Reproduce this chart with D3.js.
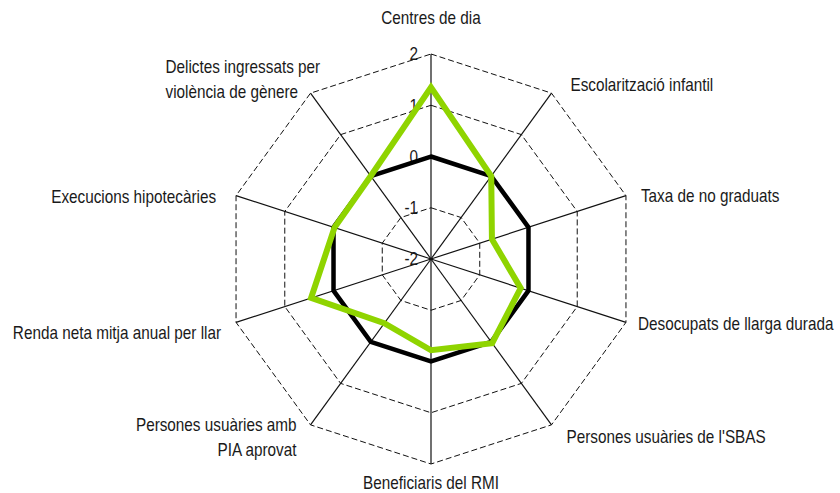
<!DOCTYPE html>
<html>
<head>
<meta charset="utf-8">
<script src="https://cdn.jsdelivr.net/npm/d3@7"></script>
<style>
  body { margin: 0; background: #fff; }
  svg text { font-family: "Liberation Sans", Arial, sans-serif; font-size: 18px; fill: #1a1a1a; }
</style>
</head>
<body>
<div id="chart"></div>
<script>
// Axis names, clockwise from the top
const axes = [
    ["Centres de dia"],
    ["Escolarització infantil"],
    ["Taxa de no graduats"],
    ["Desocupats de llarga durada"],
    ["Persones usuàries de l'SBAS"],
    ["Beneficiaris del RMI"],
    ["Persones usuàries amb", "PIA aprovat"],
    ["Renda neta mitja anual per llar"],
    ["Execucions hipotecàries"],
    ["Delictes ingressats per", "violència de gènere"]
];
const ticks = [-2, -1, 0, 1, 2];

// reference (all zero) and the district
const reference = [0, 0, 0, 0, 0, 0, 0, 0, 0, 0];
const district = [1.35, 0.0, -0.75, -0.16, 0.03, -0.22, -0.45, 0.46, -0.02, 0.0];

// label placement per axis: anchor, dx, dy from the outer vertex
const labelPos = [
    { anchor: "middle", dx: 0, dy: -36 },
    { anchor: "start", dx: 19, dy: -8 },
    { anchor: "start", dx: 15, dy: 0 },
    { anchor: "start", dx: 12, dy: 1 },
    { anchor: "start", dx: 15, dy: 12 },
    { anchor: "middle", dx: 0, dy: 19 },
    { anchor: "end", dx: -14, dy: 12 },
    { anchor: "end", dx: -15, dy: 10 },
    { anchor: "end", dx: -20, dy: 1 },
    { anchor: "start", dx: -145, dy: -14 }
];

const width = 840, height = 493;
const cx = 431, cy = 259, R = 205;
const narrow = 0.85; // squeeze to imitate a condensed face

const svg = d3.select("#chart").append("svg")
    .attr("width", width)
    .attr("height", height);

const r = d3.scaleLinear().domain([-2, 2]).range([0, R]);
const angle = i => i * 2 * Math.PI / axes.length;
const pt = (i, v) => [cx + r(v) * Math.sin(angle(i)), cy - r(v) * Math.cos(angle(i))];

const g = svg.append("g");

// dashed rings
ticks.filter(t => t > -2).forEach(t => {
    g.append("path")
        .attr("d", d3.line()(axes.map((a, i) => pt(i, t))) + "Z")
        .attr("fill", "none")
        .attr("stroke", "#111")
        .attr("stroke-width", 1)
        .attr("stroke-dasharray", "6,3");
});

// spokes
axes.forEach((a, i) => {
    const [x, y] = pt(i, 2);
    g.append("line")
        .attr("x1", cx).attr("y1", cy)
        .attr("x2", x).attr("y2", y)
        .attr("stroke", "#111")
        .attr("stroke-width", 1.2);
});

// tick labels along the top spoke
g.selectAll(".tick")
    .data(ticks)
    .enter()
    .append("text")
    .attr("transform", d => `translate(${cx - 13},${cy - r(d)}) scale(${narrow},1)`)
    .attr("dy", "0.35em")
    .attr("text-anchor", "end")
    .text(d => d);

// series
const radarLine = d3.line().curve(d3.curveLinearClosed);
g.append("path")
    .attr("d", radarLine(reference.map((v, i) => pt(i, v))))
    .attr("fill", "none")
    .attr("stroke", "#000")
    .attr("stroke-width", 4.5)
    .attr("stroke-linejoin", "miter");

g.append("path")
    .attr("d", radarLine(district.map((v, i) => pt(i, v))))
    .attr("fill", "none")
    .attr("stroke", "#8fd400")
    .attr("stroke-width", 6)
    .attr("stroke-linejoin", "miter");

// axis labels
axes.forEach((lines, i) => {
    const [x, y] = pt(i, 2);
    const p = labelPos[i];
    const t = g.append("text")
        .attr("text-anchor", p.anchor)
        .attr("transform", `translate(${x + p.dx},${y + p.dy}) scale(${narrow},1)`);
    lines.forEach((line, k) => {
        t.append("tspan")
            .attr("x", 0)
            .attr("dy", k === 0 ? (0.35 - (lines.length - 1) * 0.7) + "em" : "1.4em")
            .text(line);
    });
});
</script>
</body>
</html>
